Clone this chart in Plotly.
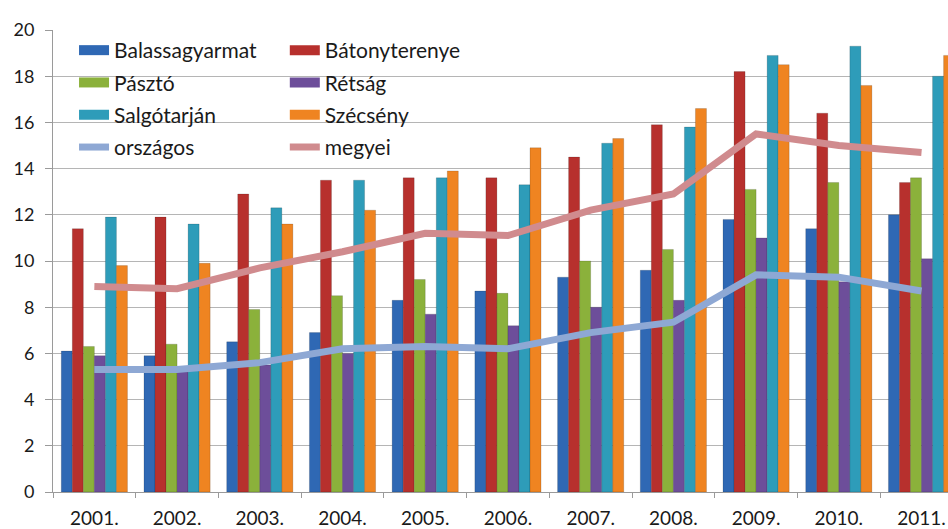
import plotly.graph_objects as go

# Data
years = ['2001.', '2002.', '2003.', '2004.', '2005.', '2006.', '2007.', '2008.', '2009.', '2010.', '2011.']

balassagyarmat = [6.1, 5.9, 6.5, 6.9, 8.3, 8.7, 9.3, 9.6, 11.8, 11.4, 12.0]
batonyterenye = [11.4, 11.9, 12.9, 13.5, 13.6, 13.6, 14.5, 15.9, 18.2, 16.4, 13.4]
paszto = [6.3, 6.4, 7.9, 8.5, 9.2, 8.6, 10.0, 10.5, 13.1, 13.4, 13.6]
retsag = [5.9, 5.2, 5.5, 6.0, 7.7, 7.2, 8.0, 8.3, 11.0, 9.1, 10.1]
salgotarjan = [11.9, 11.6, 12.3, 13.5, 13.6, 13.3, 15.1, 15.8, 18.9, 19.3, 18.0]
szecseny = [9.8, 9.9, 11.6, 12.2, 13.9, 14.9, 15.3, 16.6, 18.5, 17.6, 18.9]

orszagos = [5.3, 5.3, 5.6, 6.2, 6.3, 6.2, 6.9, 7.35, 9.4, 9.3, 8.7]
megyei = [8.9, 8.8, 9.7, 10.4, 11.2, 11.1, 12.2, 12.9, 15.5, 15.0, 14.7]

bar_series = [
    ('Balassagyarmat', balassagyarmat, '#2F68B4', 'legend'),
    ('Bátonyterenye', batonyterenye, '#B7302D', 'legend2'),
    ('Pásztó', paszto, '#8BB13B', 'legend'),
    ('Rétság', retsag, '#6D4E9A', 'legend2'),
    ('Salgótarján', salgotarjan, '#2E9CB9', 'legend'),
    ('Szécsény', szecseny, '#EF8421', 'legend2'),
]

fig = go.Figure()

for name, vals, color, leg in bar_series:
    fig.add_trace(go.Bar(
        name=name,
        x=years,
        y=vals,
        marker=dict(color=color, line=dict(color='rgba(0,0,0,0.25)', width=0.6)),
        showlegend=False,
        legendgroup=name,
    ))
    # wide rectangular legend swatch, like the Excel legend keys
    fig.add_trace(go.Scatter(
        name=name, x=[None], y=[None], mode='lines',
        line=dict(color=color, width=12),
        legend=leg, legendgroup=name, hoverinfo='skip',
    ))

fig.add_trace(go.Scatter(
    name='országos', x=years, y=orszagos, mode='lines',
    line=dict(color='#8EA8D4', width=7), legend='legend', legendgroup='országos',
))
fig.add_trace(go.Scatter(
    name='megyei', x=years, y=megyei, mode='lines',
    line=dict(color='#D08B8E', width=7), legend='legend2', legendgroup='megyei',
))

font_family = 'Lato, Open Sans, sans-serif'

fig.update_layout(
    width=948,
    height=529,
    margin=dict(l=53, r=0, t=30, b=37),
    paper_bgcolor='white',
    plot_bgcolor='white',
    font=dict(family=font_family, size=18, color='#1a1a1a'),
    barmode='group',
    bargap=0.2,
    bargroupgap=0,
    showlegend=True,
    legend=dict(
        x=0.0235, y=1.0, xanchor='left', yanchor='top',
        font=dict(size=21), bgcolor='rgba(0,0,0,0)',
        tracegroupgap=2, itemwidth=30,
    ),
    legend2=dict(
        x=0.259, y=1.0, xanchor='left', yanchor='top',
        font=dict(size=21), bgcolor='rgba(0,0,0,0)',
        tracegroupgap=2, itemwidth=30,
    ),
    xaxis=dict(
        type='category',
        range=[-0.5, 10.32],
        automargin=False,
        showline=True, linecolor='#9a9a9a', linewidth=1,
        ticks='outside', tickson='boundaries', ticklen=5, tickcolor='#9a9a9a',
        showgrid=False,
        tickfont=dict(size=19),
        ticklabelstandoff=9,
    ),
    yaxis=dict(
        range=[0, 20],
        dtick=2,
        automargin=False,
        showline=True, linecolor='#9a9a9a', linewidth=1,
        ticks='outside', ticklen=7, tickcolor='#9a9a9a',
        showgrid=True, gridcolor='#b5b5b5', gridwidth=1,
        zeroline=False,
        tickfont=dict(size=18),
        ticklabelstandoff=7,
    ),
)

# drop the default 8px page margin so the figure fills the window
fig.write_html(
    'out.html',
    config={'displayModeBar': False},
    post_script="document.body.style.margin='0';document.body.style.overflow='hidden';",
)
